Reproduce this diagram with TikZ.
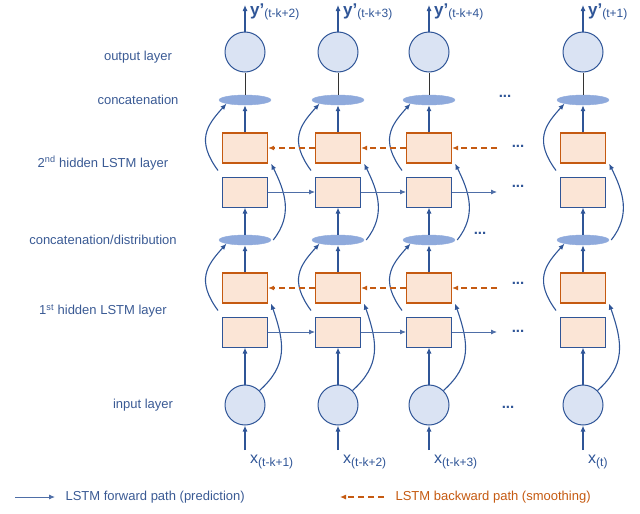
\documentclass[tikz,border=0pt]{standalone}
\usepackage{fontspec}
\setmainfont{Liberation Sans}
\usetikzlibrary{arrows.meta,shapes.geometric}
\definecolor{bl}{HTML}{2F5597}
\definecolor{lb}{HTML}{DAE3F3}
\definecolor{eb}{HTML}{8FAADC}
\definecolor{bx}{HTML}{FBE5D6}
\definecolor{or}{HTML}{C55A11}
\definecolor{tx}{HTML}{3A5A94}
\begin{document}
\begin{tikzpicture}[x=1pt,y=-1pt,
  circ/.style={circle,draw=bl,fill=lb,line width=1pt,minimum size=40pt,inner sep=0pt},
  ell/.style={ellipse,draw=eb,fill=eb,minimum width=52pt,minimum height=10pt,inner sep=0pt},
  fbox/.style={rectangle,draw=bl,fill=bx,line width=1pt,minimum width=45pt,minimum height=30pt,inner sep=0pt},
  obox/.style={rectangle,draw=or,fill=bx,line width=1.2pt,minimum width=45pt,minimum height=30pt,inner sep=0pt},
  arr/.style={-{Latex[length=6pt,width=5pt]},bl,line width=1.1pt},
  harr/.style={-{Latex[length=6pt,width=5pt]},bl!85,line width=0.9pt},
  darr/.style={-{Latex[length=6pt,width=5pt]},or,line width=1.1pt,dash pattern=on 6pt off 4pt},
  lab/.style={text=tx,font=\fontsize{13}{15}\selectfont},
  dots/.style={text=bl,font=\bfseries\fontsize{15}{15}\selectfont}]
\useasboundingbox (0,0) rectangle (640,514);
\foreach \i/\x in {1/245,2/338,3/429,4/583}{
  \node[circ] (out\i) at (\x,52) {};
  \node[ell] (con\i) at (\x,100) {};
  \node[obox] (ob\i) at (\x,148) {};
  \node[fbox] (fb\i) at (\x,192) {};
  \node[ell] (dis\i) at (\x,240) {};
  \node[obox] (oa\i) at (\x,288) {};
  \node[fbox] (fa\i) at (\x,332) {};
  \node[circ] (in\i) at (\x,405) {};
  \coordinate (top\i) at (\x,5);
  \coordinate (bot\i) at (\x,450);
  \draw[arr] (bot\i) -- (in\i.south);
  \draw[arr] (in\i.north) -- (fa\i.south);
  \draw[arr] (oa\i.north) -- (dis\i.south);
  \draw[arr] (dis\i.north) -- (fb\i.south);
  \draw[arr] (ob\i.north) -- (con\i.south);
  \draw[black!80,line width=1pt] (con\i.north) -- (out\i.south);
  \draw[arr] (out\i.north) -- (top\i);
  \draw[arr] ([xshift=-4pt,yshift=6pt]fb\i.north west) .. controls ++(-22,-30) and ++(-20,22) .. (con\i.south west);
  \draw[arr] ([xshift=-4pt,yshift=6pt]fa\i.north west) .. controls ++(-22,-30) and ++(-20,22) .. (dis\i.south west);
  \draw[arr] ([xshift=2pt]dis\i.east) .. controls ++(20,-25) and ++(14,28) .. ([xshift=3pt]ob\i.south east);
  \draw[arr] (in\i.north east) .. controls ++(28,-25) and ++(14,40) .. ([xshift=3pt]oa\i.south east);
}
\foreach \a/\b in {1/2,2/3}{
  \draw[harr] (fb\a) -- (fb\b);
  \draw[harr] (fa\a) -- (fa\b);
  \draw[darr] (ob\b) -- (ob\a);
  \draw[darr] (oa\b) -- (oa\a);
}
\coordinate (hb) at (497,192); \coordinate (ha) at (497,332);
\coordinate (db) at (497,148); \coordinate (da) at (497,288);
\draw[harr] (fb3.east) -- (hb);
\draw[harr] (fa3.east) -- (ha);
\draw[darr] (db) -- (ob3.east);
\draw[darr] (da) -- (oa3.east);
\node[dots] (d1) at (505,96) {...};
\node[dots] (d2) at (518,146) {...};
\node[dots] (d3) at (518,186) {...};
\node[dots] (d4) at (480,233) {...};
\node[dots] (d5) at (518,283) {...};
\node[dots] (d6) at (518,331) {...};
\node[dots] (d7) at (508,407) {...};
\foreach \i/\x/\s in {1/245/{t-k+2},2/338/{t-k+3},3/429/{t-k+4},4/583/{t+1}}{
  \node[anchor=west,text=bl,inner sep=0pt] (yl\i) at (\x+5,12) {\fontsize{17}{17}\selectfont\bfseries y'\textsubscript{\mdseries\fontsize{12}{12}\selectfont(\s)}};
}
\foreach \i/\x/\s in {1/245/{t-k+1},2/338/{t-k+2},3/429/{t-k+3},4/583/{t}}{
  \node[anchor=west,text=bl,inner sep=0pt] (xl\i) at (\x+5,462) {\fontsize{16}{16}\selectfont x\textsubscript{\fontsize{12}{12}\selectfont(\s)}};
}
\node[lab] (l1) at (138,57) {output layer};
\node[lab] (l2) at (138,100) {concatenation};
\node[lab] (l3) at (103,163) {2\textsuperscript{nd} hidden LSTM layer};
\node[lab] (l4) at (103,240) {concatenation/distribution};
\node[lab] (l5) at (103,311) {1\textsuperscript{st} hidden LSTM layer};
\node[lab] (l6) at (143,405) {input layer};
\coordinate (la) at (15,497); \coordinate (lb) at (55,497);
\draw[harr] (la) -- (lb);
\node[lab,anchor=west] (lt1) at (62,497) {LSTM forward path (prediction)};
\coordinate (lc) at (384,497); \coordinate (ld) at (340,497);
\draw[darr] (lc) -- (ld);
\node[anchor=west,text=or,font=\fontsize{13}{15}\selectfont] (lt2) at (392,497) {LSTM backward path (smoothing)};
\end{tikzpicture}
\end{document}
